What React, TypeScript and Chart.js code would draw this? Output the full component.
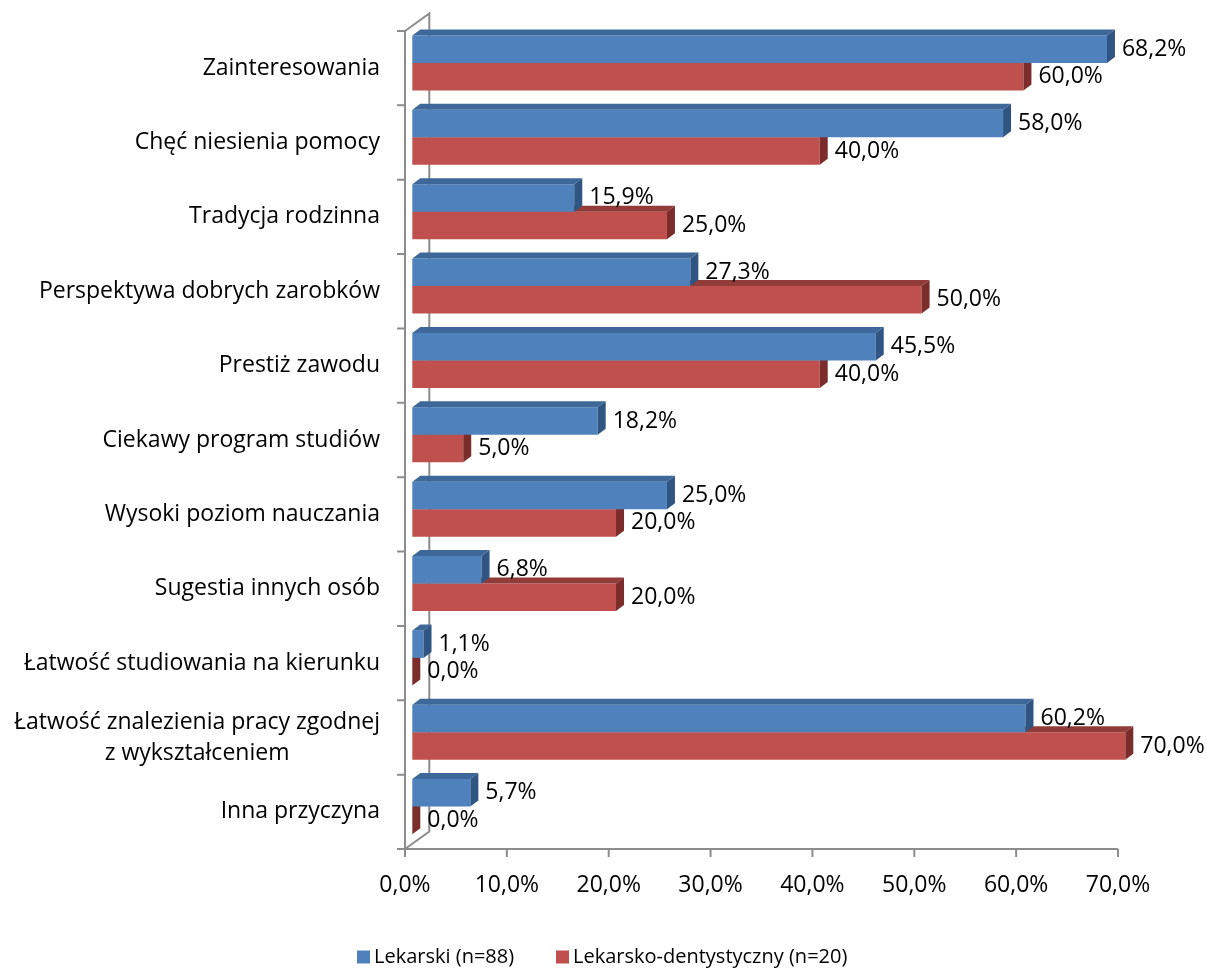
import React, { useEffect, useRef } from 'react';
import { Chart, registerables } from 'chart.js';

Chart.register(...registerables);

const CATEGORIES: (string | string[])[] = [
  'Zainteresowania',
  'Chęć niesienia pomocy',
  'Tradycja rodzinna',
  'Perspektywa dobrych zarobków',
  'Prestiż zawodu',
  'Ciekawy program studiów',
  'Wysoki poziom nauczania',
  'Sugestia innych osób',
  'Łatwość studiowania na kierunku',
  ['Łatwość znalezienia pracy zgodnej', 'z wykształceniem'],
  'Inna przyczyna',
];
const LEKARSKI = [68.2, 58.0, 15.9, 27.3, 45.5, 18.2, 25.0, 6.8, 1.1, 60.2, 5.7];
const DENTYSTYCZNY = [60.0, 40.0, 25.0, 50.0, 40.0, 5.0, 20.0, 20.0, 0.0, 70.0, 0.0];
const X_TICKS = [0, 10, 20, 30, 40, 50, 60, 70];
const SERIES_NAMES = ['Lekarski (n=88)', 'Lekarsko-dentystyczny (n=20)'];

const FONT = '"Open Sans", sans-serif';
const FRONT = ['#4F81BD', '#C0504D'];
const FACES = [
  { top: '#3E6899', side: '#2F5583' },
  { top: '#913C39', side: '#7B2D2B' },
];
const BAR_SHIFT = { x: 7.3, y: -5.2 };
const DEPTH = { x: 8, y: -6 };
const WALL = { x: 24.3, y: -17.5 };
const AXIS_COLOR = '#8C8C8C';

const fmt = (v: number) => v.toFixed(1).replace('.', ',') + '%';

const excel3d = {
  id: 'excel3d',
  beforeDatasetsDraw(chart: any) {
    const { ctx, chartArea: a, scales } = chart;
    const xs = scales.x;
    const ys = scales.y;
    ctx.save();
    ctx.strokeStyle = AXIS_COLOR;
    ctx.lineWidth = 2;
    // back wall edge
    ctx.beginPath();
    ctx.moveTo(a.left, a.top);
    ctx.lineTo(a.left + WALL.x, a.top + WALL.y);
    ctx.lineTo(a.left + WALL.x, a.bottom + WALL.y);
    ctx.lineTo(a.left, a.bottom);
    ctx.stroke();
    // front axes
    const xEnd = xs.getPixelForValue(X_TICKS[X_TICKS.length - 1]);
    ctx.beginPath();
    ctx.moveTo(a.left, a.top);
    ctx.lineTo(a.left, a.bottom);
    ctx.lineTo(xEnd, a.bottom);
    ctx.stroke();
    // category ticks
    const band = ys.getPixelForValue(1) - ys.getPixelForValue(0);
    ctx.beginPath();
    for (let i = 0; i <= CATEGORIES.length; i++) {
      const yy = ys.getPixelForValue(0) - band / 2 + band * i;
      ctx.moveTo(a.left - 8, yy);
      ctx.lineTo(a.left, yy);
    }
    // value ticks
    X_TICKS.forEach((v) => {
      const px = xs.getPixelForValue(v);
      ctx.moveTo(px, a.bottom);
      ctx.lineTo(px, a.bottom + 8);
    });
    ctx.stroke();

    // labels
    ctx.fillStyle = '#000';
    ctx.font = `23px ${FONT}`;
    ctx.textBaseline = 'middle';
    ctx.textAlign = 'center';
    CATEGORIES.forEach((lab, i) => {
      const lines = Array.isArray(lab) ? lab : [lab];
      const w = Math.max(...lines.map((l) => ctx.measureText(l).width));
      const cx = a.left - 25 - w / 2;
      const cy = ys.getPixelForValue(i);
      const lh = 31;
      lines.forEach((l, j) => {
        ctx.fillText(l, cx, cy - ((lines.length - 1) * lh) / 2 + j * lh);
      });
    });
    X_TICKS.forEach((v) => {
      ctx.fillText(fmt(v), xs.getPixelForValue(v), a.bottom + 36);
    });
    ctx.restore();

    ctx.save();
    ctx.translate(BAR_SHIFT.x, BAR_SHIFT.y);
  },
  afterDatasetDraw(chart: any, args: any) {
    const { ctx } = chart;
    const di = args.index;
    const f = FACES[di];
    args.meta.data.forEach((el: any) => {
      const top = el.y - el.height / 2;
      const bottom = el.y + el.height / 2;
      const left = el.base;
      const right = el.x;
      ctx.fillStyle = f.top;
      ctx.beginPath();
      ctx.moveTo(left, top);
      ctx.lineTo(right, top);
      ctx.lineTo(right + DEPTH.x, top + DEPTH.y);
      ctx.lineTo(left + DEPTH.x, top + DEPTH.y);
      ctx.closePath();
      ctx.fill();
      ctx.fillStyle = f.side;
      ctx.beginPath();
      ctx.moveTo(right, top);
      ctx.lineTo(right + DEPTH.x, top + DEPTH.y);
      ctx.lineTo(right + DEPTH.x, bottom + DEPTH.y);
      ctx.lineTo(right, bottom);
      ctx.closePath();
      ctx.fill();
    });
  },
  afterDatasetsDraw(chart: any) {
    const { ctx } = chart;
    ctx.fillStyle = '#000';
    ctx.font = `23px ${FONT}`;
    ctx.textBaseline = 'middle';
    ctx.textAlign = 'left';
    chart.data.datasets.forEach((ds: any, di: number) => {
      const meta = chart.getDatasetMeta(di);
      meta.data.forEach((el: any, i: number) => {
        ctx.fillText(fmt(ds.data[i]), el.x + 15, el.y);
      });
    });
    ctx.restore();
  },
  afterDraw(chart: any) {
    const { ctx } = chart;
    ctx.save();
    ctx.font = `20px ${FONT}`;
    ctx.textBaseline = 'middle';
    ctx.textAlign = 'left';
    const y = 957;
    const items = [
      { x: 357, name: SERIES_NAMES[0], color: FRONT[0] },
      { x: 556, name: SERIES_NAMES[1], color: FRONT[1] },
    ];
    items.forEach((it) => {
      ctx.fillStyle = it.color;
      ctx.fillRect(it.x, y - 6.5, 13, 13);
      ctx.fillStyle = '#000';
      ctx.fillText(it.name, it.x + 17, y);
    });
    ctx.restore();
  },
};

export default function App() {
  const ref = useRef<HTMLCanvasElement | null>(null);
  useEffect(() => {
    if (!ref.current) return;
    const chart = new Chart(ref.current, {
      type: 'bar',
      data: {
        labels: CATEGORIES as any,
        datasets: [
          {
            label: SERIES_NAMES[0],
            data: LEKARSKI,
            backgroundColor: FRONT[0],
            borderWidth: 0,
            categoryPercentage: 0.74,
            barPercentage: 1,
            clip: false as any,
          },
          {
            label: SERIES_NAMES[1],
            data: DENTYSTYCZNY,
            backgroundColor: FRONT[1],
            borderWidth: 0,
            categoryPercentage: 0.74,
            barPercentage: 1,
            clip: false as any,
          },
        ],
      },
      options: {
        indexAxis: 'y',
        responsive: false,
        animation: false,
        events: [],
        layout: { padding: { left: 405, right: 89, top: 31, bottom: 128 } },
        scales: {
          x: { display: false, min: 0, max: 70 },
          y: { display: false, offset: true },
        },
        plugins: { legend: { display: false }, tooltip: { enabled: false } },
      },
      plugins: [excel3d],
    });
    return () => chart.destroy();
  }, []);
  return (
    <div style={{ position: 'absolute', left: 0, top: 0, width: 1207, height: 977, background: '#fff' }}>
      <canvas ref={ref} width={1207} height={977} style={{ display: 'block' }} />
    </div>
  );
}
